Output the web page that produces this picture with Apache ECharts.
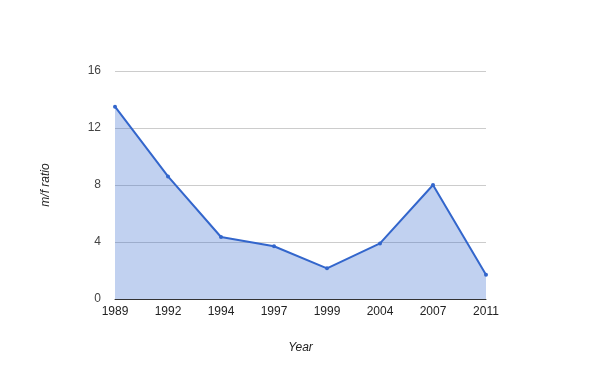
<!DOCTYPE html>
<html><head><meta charset="utf-8">
<script src="https://cdn.jsdelivr.net/npm/echarts@6/dist/echarts.min.js"></script>
<style>html,body{margin:0;padding:0;background:#fff}#c{width:600px;height:371px}</style>
</head><body><div id="c"></div>
<script>
const years = ['1989','1992','1994','1997','1999','2004','2007','2011'];
const ratios = [13.5, 8.6, 4.35, 3.7, 2.15, 3.9, 8.0, 1.7];
const yTicks = [0, 4, 8, 12, 16];

const chart = echarts.init(document.getElementById('c'), null, {renderer:'canvas'});
chart.setOption({
  animation:false,
  backgroundColor:'#fff',
  grid:{left:115, right:114, top:71, bottom:72},
  xAxis:{
    type:'category', data:years, boundaryGap:false,
    name:'Year', nameLocation:'middle', nameGap:43,
    nameTextStyle:{fontFamily:'Liberation Sans', fontSize:12, fontStyle:'italic', color:'#222'},
    axisLine:{lineStyle:{color:'#333', width:1}},
    axisTick:{show:false},
    axisLabel:{fontFamily:'Liberation Sans', fontSize:12, color:'#222', margin:7, interval:0},
    splitLine:{show:false}
  },
  yAxis:{
    type:'value', min:yTicks[0], max:yTicks[yTicks.length-1], interval:4,
    name:'m/f ratio', nameLocation:'middle', nameGap:63, nameRotate:90,
    nameTextStyle:{fontFamily:'Liberation Sans', fontSize:12, fontStyle:'italic', color:'#222'},
    axisLine:{show:false}, axisTick:{show:false},
    axisLabel:{fontFamily:'Liberation Sans', fontSize:12, color:'#444', margin:14},
    splitLine:{lineStyle:{color:'#ccc', width:1}}
  },
  series:[{
    type:'line', data:ratios,
    symbol:'circle', symbolSize:4,
    lineStyle:{color:'#3366cc', width:2},
    itemStyle:{color:'#3366cc'},
    areaStyle:{color:'#3366cc', opacity:0.3}
  }]
});
</script></body></html>
